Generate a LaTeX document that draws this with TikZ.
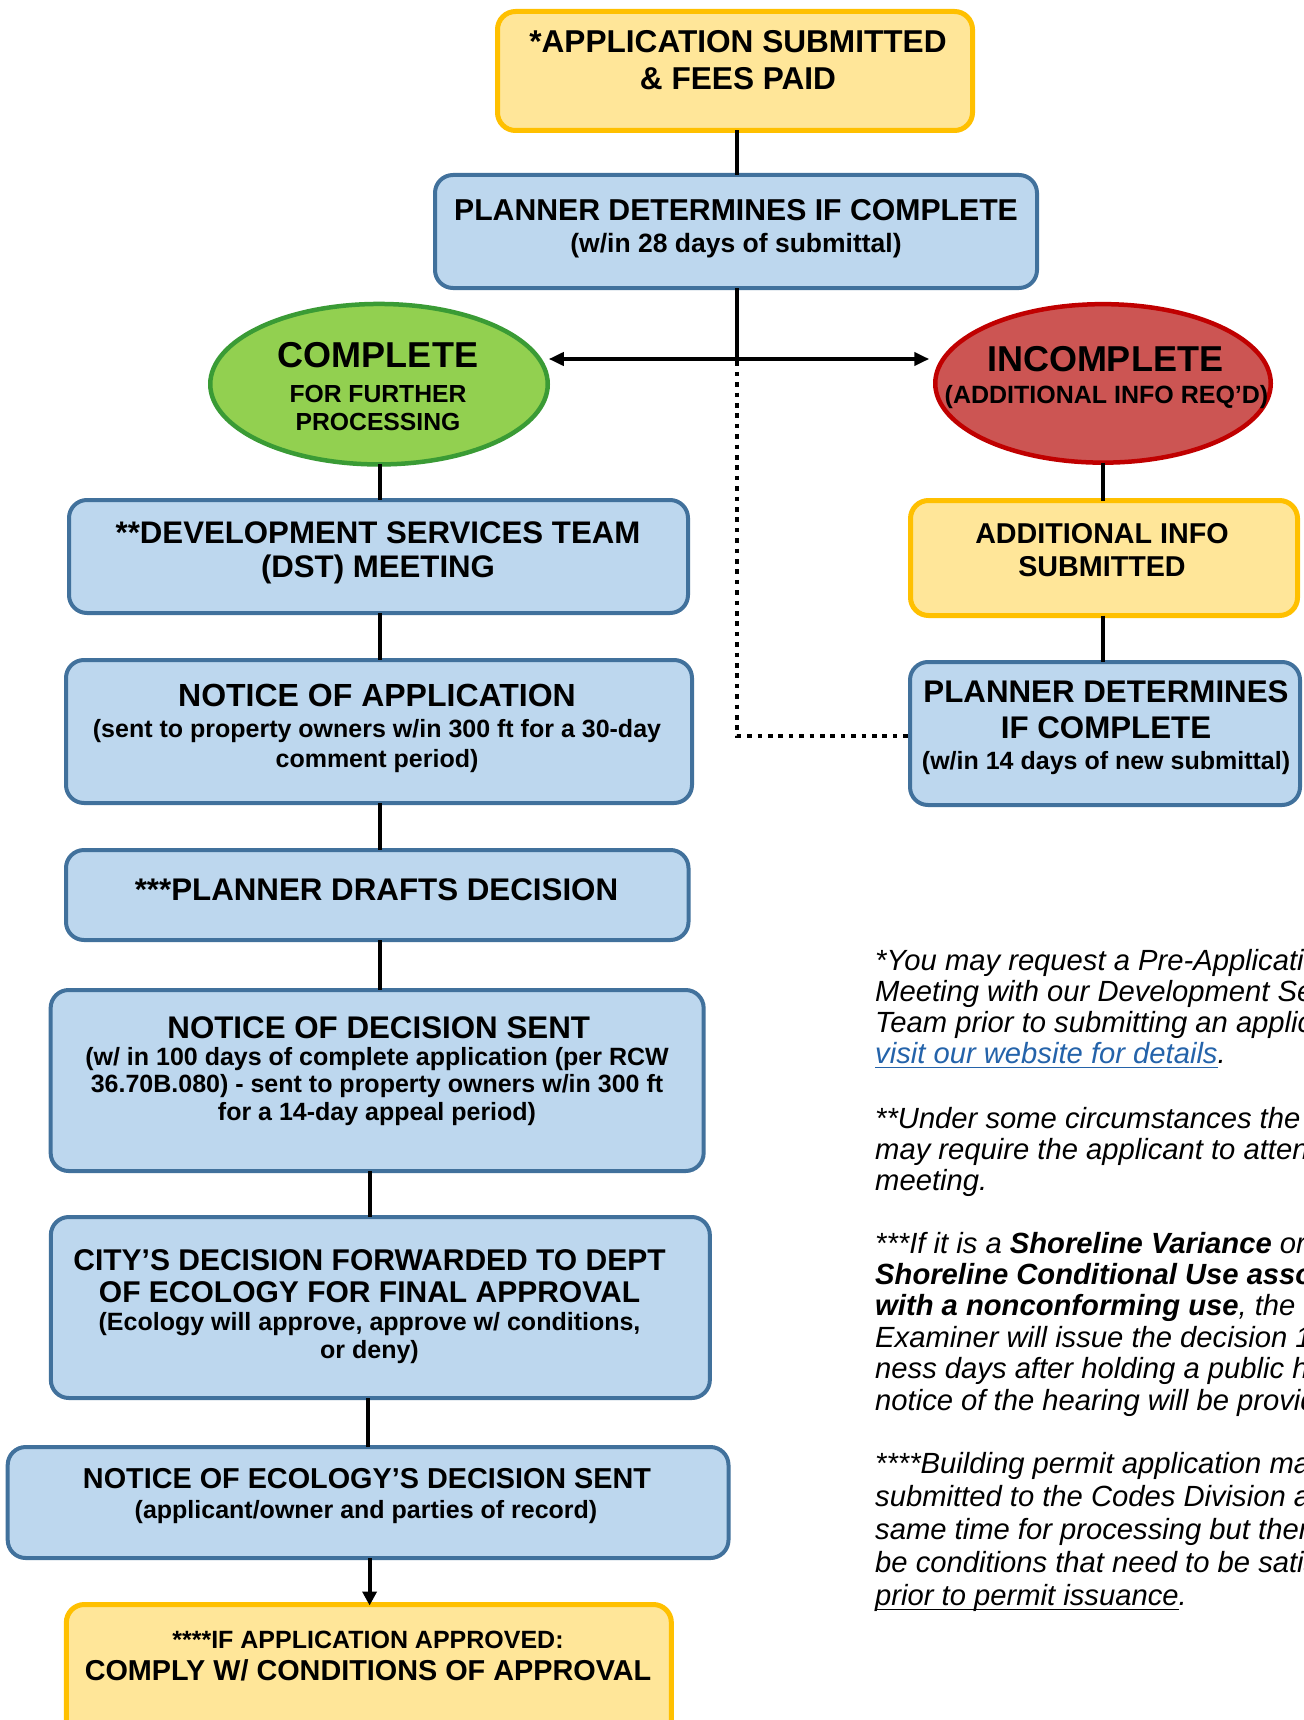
\documentclass[tikz,border=0pt]{standalone}
\usepackage{fontspec}
\setmainfont{Liberation Sans}
\usetikzlibrary{arrows.meta,shapes.geometric}
\definecolor{ybfill}{HTML}{FFE699}
\definecolor{ybdraw}{HTML}{FFC000}
\definecolor{bbfill}{HTML}{BDD7EE}
\definecolor{bbdraw}{HTML}{41719C}
\definecolor{gfill}{HTML}{92D050}
\definecolor{gdraw}{HTML}{3A9B35}
\definecolor{rfill}{HTML}{CC5553}
\definecolor{rdraw}{HTML}{C00000}
\definecolor{linkblue}{HTML}{2463AA}
\newcommand\fsz[2]{\fontsize{#1}{#2}\selectfont\spaceskip=0pt\xspaceskip=0pt\relax}
\newsavebox\ulsavebox
\newcommand\myul[2]{\leavevmode\sbox\ulsavebox{#2}\rlap{\textcolor{#1}{\rule[-4.5pt]{\wd\ulsavebox}{1.8pt}}}\usebox\ulsavebox}
\begin{document}
\begin{tikzpicture}[x=1pt,y=-1pt,
  ybox/.style={draw=ybdraw, fill=ybfill, line width=5pt, rounded corners=18pt, inner sep=0pt, outer sep=0pt},
  bbox/.style={draw=bbdraw, fill=bbfill, line width=4pt, rounded corners=18pt, inner sep=0pt, outer sep=0pt},
  gell/.style={ellipse, draw=gdraw, fill=gfill, line width=4.5pt, inner sep=0pt, outer sep=0pt},
  rell/.style={ellipse, draw=rdraw, fill=rfill, line width=4.5pt, inner sep=0pt, outer sep=0pt},
  txt/.style={inner sep=0pt, text width=720pt, align=flush center, anchor=base, font=\bfseries},
  note/.style={inner sep=0pt, text width=800pt, align=flush left, anchor=base west, font=\itshape},
  conn/.style={line width=4pt, black},
  dotline/.style={line width=4.6pt, black, dash pattern=on 4.6pt off 5.8pt},
  tip/.style={-{Triangle[length=14pt,width=14pt]}},
  dbltip/.style={{Triangle[length=15pt,width=13pt]}-{Triangle[length=15pt,width=13pt]}}
]
\useasboundingbox (0,0) rectangle (1303,1720);
\fill[white] (0,0) rectangle (1303,1720);

% ---------- boxes ----------
\node[ybox, minimum width=475pt, minimum height=119pt] (top) at (735,71) {};
\node[bbox, minimum width=602pt, minimum height=113pt] (planner) at (736,231.5) {};
\node[gell, minimum width=337.5pt, minimum height=160.5pt] (complete) at (379,384.2) {};
\node[rell, minimum width=335.5pt, minimum height=158.5pt] (incomplete) at (1103,383.4) {};
\node[bbox, minimum width=619pt, minimum height=113pt] (dst) at (378.5,556.5) {};
\node[bbox, minimum width=626pt, minimum height=143pt] (noa) at (379,731.5) {};
\node[bbox, minimum width=622.5pt, minimum height=90pt] (drafts) at (377.25,895) {};
\node[bbox, minimum width=653pt, minimum height=181pt] (nod) at (377.15,1080.5) {};
\node[bbox, minimum width=659pt, minimum height=181pt] (city) at (380.35,1307.5) {};
\node[bbox, minimum width=720.8pt, minimum height=111pt] (eco) at (368.1,1502.5) {};
\node[ybox, minimum width=605pt, minimum height=138pt] (final) at (368.85,1673.5) {};
\node[ybox, minimum width=387pt, minimum height=115pt] (addl) at (1104,558) {};
\node[bbox, minimum width=390pt, minimum height=143pt] (pr) at (1105,733.5) {};

% ---------- connectors ----------
\coordinate (jn) at (737,359);
\coordinate (dc) at (737,736);
\coordinate (lc) at (379.5,0);
\coordinate (lc2) at (369.6,0);
\coordinate (lc3) at (367.6,0);
\coordinate (rc) at (1103,0);
\draw[conn] (top.south -| jn) -- (planner.north -| jn);
\draw[conn] (planner.south -| jn) -- (jn);
\draw[conn, dbltip] ([xshift=1pt]jn -| complete.east) -- ([xshift=-6pt]jn -| incomplete.west);
\draw[dotline] ([yshift=8pt]jn) -- (dc) -- (dc -| pr.west);
\draw[conn] (complete.south -| lc) -- (dst.north -| lc);
\draw[conn] (dst.south -| lc) -- (noa.north -| lc);
\draw[conn] (noa.south -| lc) -- (drafts.north -| lc);
\draw[conn] (drafts.south -| lc) -- (nod.north -| lc);
\draw[conn] (nod.south -| lc2) -- (city.north -| lc2);
\draw[conn] (city.south -| lc3) -- (eco.north -| lc3);
\draw[conn, tip] (eco.south -| lc2) -- ([yshift=-1pt]final.north -| lc2);
\draw[conn] (incomplete.south -| rc) -- (addl.north -| rc);
\draw[conn] (addl.south -| rc) -- (pr.north -| rc);

% ---------- texts ----------
\node[txt] (ttop) at (738,53) {\fsz{31.6}{37}*APPLICATION SUBMITTED\\\& FEES PAID\par};
\node[txt] (tplan) at (736,221) {\fsz{30.2}{34}PLANNER DETERMINES IF COMPLETE\par};
\node[txt] (splan) at (736,252) {\fsz{26.5}{30}(w/in 28 days of submittal)\par};
\node[txt] (tcomp) at (378,367) {\fsz{36}{40}COMPLETE\par};
\node[txt] (scomp) at (378,402) {\fsz{24.7}{28}FOR FURTHER\\PROCESSING\par};
\node[txt] (tinc) at (1105,371) {\fsz{36}{40}INCOMPLETE\par};
\node[txt] (sinc) at (1106.5,403) {\fsz{25}{28}(ADDITIONAL INFO REQ’D)\par};
\node[txt] (tdst) at (378,543) {\fsz{31.2}{34}**DEVELOPMENT SERVICES TEAM\\(DST) MEETING\par};
\node[txt] (tnoa) at (377,706.5) {\fsz{32}{36}NOTICE OF APPLICATION\par};
\node[txt] (snoa) at (377,737.5) {\fsz{25}{29.7}(sent to property owners w/in 300 ft for a 30-day\\comment period)\par};
\node[txt] (tdraft) at (376.5,900) {\fsz{31.3}{36}***PLANNER DRAFTS DECISION\par};
\node[txt] (tnod) at (378.7,1038) {\fsz{31.3}{36}NOTICE OF DECISION SENT\par};
\node[txt] (snod) at (377,1065.5) {\fsz{25}{27.4}(w/ in 100 days of complete application (per RCW\\36.70B.080) - sent to property owners w/in 300 ft\\for a 14-day appeal period)\par};
\node[txt] (tcity) at (369.5,1270) {\fsz{30}{32.5}CITY’S DECISION FORWARDED TO DEPT\\OF ECOLOGY FOR FINAL APPROVAL\par};
\node[txt] (scity) at (369.5,1330.5) {\fsz{25}{28}(Ecology will approve, approve w/ conditions,\\or deny)\par};
\node[txt] (teco) at (367,1488) {\fsz{28.8}{32}NOTICE OF ECOLOGY’S DECISION SENT\par};
\node[txt] (seco) at (366,1518) {\fsz{25}{28}(applicant/owner and parties of record)\par};
\node[txt] (sfin) at (368,1648) {\fsz{25}{28}****IF APPLICATION APPROVED:\par};
\node[txt] (tfin) at (368,1680) {\fsz{28.8}{32}COMPLY W/ CONDITIONS OF APPROVAL\par};
\node[txt] (taddl) at (1102,543) {\fsz{28.7}{33}ADDITIONAL INFO\\SUBMITTED\par};
\node[txt] (tpr) at (1106,702) {\fsz{31.3}{36}PLANNER DETERMINES\\IF COMPLETE\par};
\node[txt] (spr) at (1106,769.5) {\fsz{25}{28}(w/in 14 days of new submittal)\par};

% ---------- notes ----------
\node[note] (n1) at (875,970) {\fsz{29.2}{31.3}*You may request a Pre-Application\\Meeting with our Development Services\\Team prior to submitting an application\\\myul{linkblue}{\textcolor{linkblue}{visit our website for details}}.\par};
\node[note] (n2) at (875,1128) {\fsz{29.2}{31.3}**Under some circumstances the DST\\may require the applicant to attend\\meeting.\par};
\node[note] (n3) at (875,1253) {\fsz{29.2}{31.4}***If it is a \textbf{Shoreline Variance} or\\\textbf{Shoreline Conditional Use associated}\\\textbf{with a nonconforming use}, the Hearing\\Examiner will issue the decision 10 busi-\\ness days after holding a public hearing\\notice of the hearing will be provided\par};
\node[note] (n4) at (875,1473) {\fsz{29.2}{33.2}****Building permit application may\\submitted to the Codes Division at\\same time for processing but there\\be conditions that need to be satisfied\\\myul{black}{prior to permit issuance}.\par};
\end{tikzpicture}
\end{document}
